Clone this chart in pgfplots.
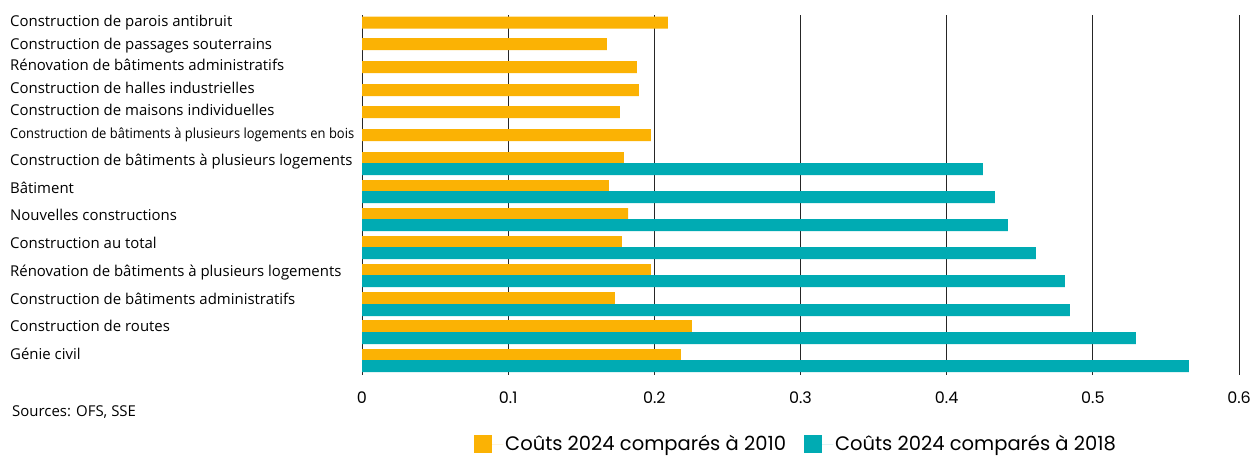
\documentclass[border=0pt]{standalone}
\usepackage{fontspec}
\setmainfont{Open Sans}
\newfontfamily\legfont{Poppins}
\usepackage{graphicx}
\usepackage{pgfplots}
\pgfplotsset{compat=1.18}
\definecolor{orangebar}{RGB}{251,178,4}
\definecolor{tealbar}{RGB}{0,171,179}

\begin{document}
\begin{tikzpicture}
\useasboundingbox (0,0) rectangle (1254bp,456bp);
\begin{axis}[
    at={(362bp,81bp)}, anchor=south west,
    scale only axis, width=877bp, height=360bp,
    xmin=0, xmax=0.6, ymin=15, ymax=375, y dir=reverse,
    clip=false,
    axis line style={draw=none},
    major tick length=0pt,
    xtick={0,0.1,0.2,0.3,0.4,0.5,0.6},
    xmajorgrids,
    major grid style={black!85, line width=1bp},
    /pgf/number format/assume math mode=true,
    xticklabel style={font=\legfont\fontsize{16}{16}\selectfont, anchor=base, yshift=-28bp},
    ytick={26.7,49,70.7,93.3,115,138.3,165,193.3,220.7,248.3,276,304,331.7,359},
    yticklabels={
        {Construction de parois antibruit},
        {Construction de passages souterrains},
        {Rénovation de bâtiments administratifs},
        {Construction de halles industrielles},
        {Construction de maisons individuelles},
        {\resizebox{344bp}{\height}{\fontsize{14}{14}\selectfont Construction de bâtiments à plusieurs logements en bois}},
        {Construction de bâtiments à plusieurs logements},
        {Bâtiment},
        {Nouvelles constructions},
        {Construction au total},
        {Rénovation de bâtiments à plusieurs logements},
        {Construction de bâtiments administratifs},
        {Construction de routes},
        {Génie civil}},
    yticklabel style={anchor=base west, inner sep=0pt, xshift=-352bp, font=\fontsize{15}{15}\selectfont},
    xbar, bar width=12bp, bar shift=0pt,
    legend columns=2,
    legend style={at={(0.1277,-0.1917)}, anchor=west, draw=none, inner sep=0pt,
        font=\legfont\fontsize{19.6}{19.6}\selectfont,
        /tikz/every even column/.append style={column sep=16bp}},
    legend image code/.code={\fill[#1] (0bp,-9bp) rectangle (18bp,9bp);
        \path (0bp,0bp) -- (29bp,0bp);},
]
\addplot[fill=orangebar, draw=none] coordinates {
    (0.2093,22.5) (0.1676,44) (0.1881,67) (0.1895,90) (0.1765,112)
    (0.1977,135) (0.1792,158) (0.1689,186) (0.1820,214) (0.1778,242)
    (0.1977,270) (0.1730,298) (0.2257,326) (0.2182,355)};
\addlegendentry{Coûts 2024 comparés à 2010}
\addplot[fill=tealbar, draw=none] coordinates {
    (0.4248,169) (0.4330,197) (0.4419,225) (0.4610,253) (0.4808,281)
    (0.4843,310) (0.5294,338) (0.5657,366)};
\addlegendentry{Coûts 2024 comparés à 2018}
\end{axis}
\node[anchor=base west, inner sep=0pt, font=\fontsize{15}{15}\selectfont] at (12bp,39.3bp) {Sources: OFS, SSE};
\end{tikzpicture}
\end{document}
